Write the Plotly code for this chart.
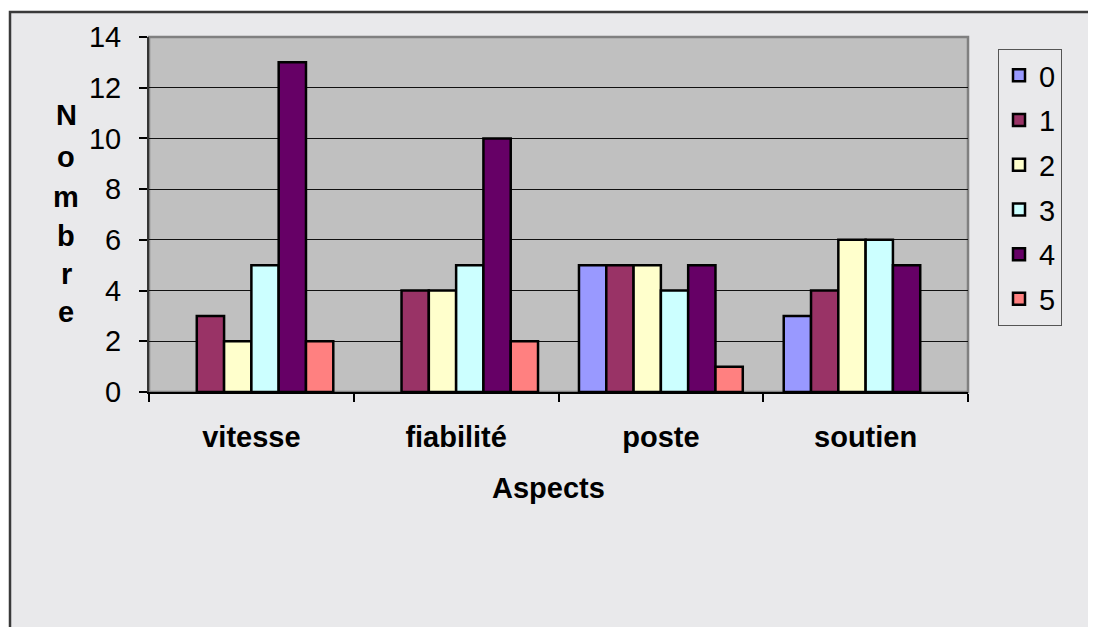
import plotly.graph_objects as go

categories = ["vitesse", "fiabilité", "poste", "soutien"]
series_names = ["0", "1", "2", "3", "4", "5"]
values_0 = [0, 0, 5, 3]
values_1 = [3, 4, 5, 4]
values_2 = [2, 4, 5, 6]
values_3 = [5, 5, 4, 6]
values_4 = [13, 10, 5, 5]
values_5 = [2, 2, 1, 0]
y_ticks = [0, 2, 4, 6, 8, 10, 12, 14]
y_title = "Nombre"
x_title = "Aspects"

series_values = [values_0, values_1, values_2, values_3, values_4, values_5]
colors = ["#9999ff", "#993366", "#ffffcc", "#ccffff", "#660066", "#ff8080"]

OFF = 8  # default page body margin
W, H = 1096, 627 - OFF
L, R, T, B = 149 - OFF, 968 - OFF, 37 - OFF, 392 - OFF

def px_x(p):
    return (p - OFF - L) / (R - L)

def px_y(p):
    return (B - (p - OFF)) / (B - T)

fig = go.Figure()
for name, vals, col in zip(series_names, series_values, colors):
    fig.add_trace(go.Bar(
        x=categories, y=[v if v != 0 else None for v in vals], name=name,
        marker=dict(color=col, line=dict(color="#000000", width=2.5)),
        legendgroup=name,
    ))

font = "Arial, Liberation Sans, sans-serif"
FS = 29

shapes = [
    dict(type="rect", xref="paper", yref="paper", layer="below",
         x0=px_x(10), x1=px_x(1140), y0=px_y(680), y1=px_y(12),
         fillcolor="#e9e9eb", line=dict(color="#3a3a3a", width=2.5)),
    dict(type="rect", xref="paper", yref="paper", layer="below",
         x0=0, x1=1, y0=0, y1=1,
         fillcolor="#c0c0c0", line=dict(color="#808080", width=2.5)),
]

annotations = []
letter_y = [115, 157, 197, 236, 274, 312]
for ch, py in zip(y_title, letter_y):
    annotations.append(dict(text="<b>%s</b>" % ch, xref="paper", yref="paper",
                            x=px_x(66), y=px_y(py), showarrow=False,
                            xanchor="center", yanchor="middle",
                            font=dict(family=font, size=FS, color="#000")))
annotations.append(dict(text="<b>%s</b>" % x_title, xref="paper", yref="paper",
                        x=px_x(548), y=px_y(488), showarrow=False,
                        xanchor="center", yanchor="middle",
                        font=dict(family=font, size=FS, color="#000")))

fig.update_layout(
    width=W, height=H,
    margin=dict(l=L, r=W - R, t=T, b=H - B, pad=0),
    paper_bgcolor="#ffffff",
    plot_bgcolor="rgba(0,0,0,0)",
    barmode="group", bargap=0.2, bargroupgap=0,
    font=dict(family=font, size=FS, color="#000"),
    shapes=shapes, annotations=annotations,
    legend=dict(x=px_x(998), y=px_y(49), xanchor="left", yanchor="top",
                bgcolor="#e9e9eb", bordercolor="#555555", borderwidth=1,
                font=dict(family=font, size=FS, color="#000"),
                tracegroupgap=4, itemwidth=30),
    showlegend=True,
)
fig.update_xaxes(
    type="category", tickson="boundaries", ticks="outside", ticklen=8,
    tickcolor="#000", tickwidth=1.5,
    showline=True, linecolor="#000", linewidth=2,
    showgrid=False,
    tickfont=dict(family=font, size=FS, color="#000"),
    tickprefix="<b>", ticksuffix="</b>",
    ticklabelstandoff=18,
)
fig.update_yaxes(
    range=[0, 14], tickvals=y_ticks, ticks="outside", ticklen=8,
    tickcolor="#000", tickwidth=1.5,
    showline=True, linecolor="#333", linewidth=2,
    showgrid=True, gridcolor="#111", gridwidth=1.2,
    zeroline=False,
    tickfont=dict(family=font, size=FS, color="#000"),
    ticklabelstandoff=12,
)

fig.write_html("out.html")
